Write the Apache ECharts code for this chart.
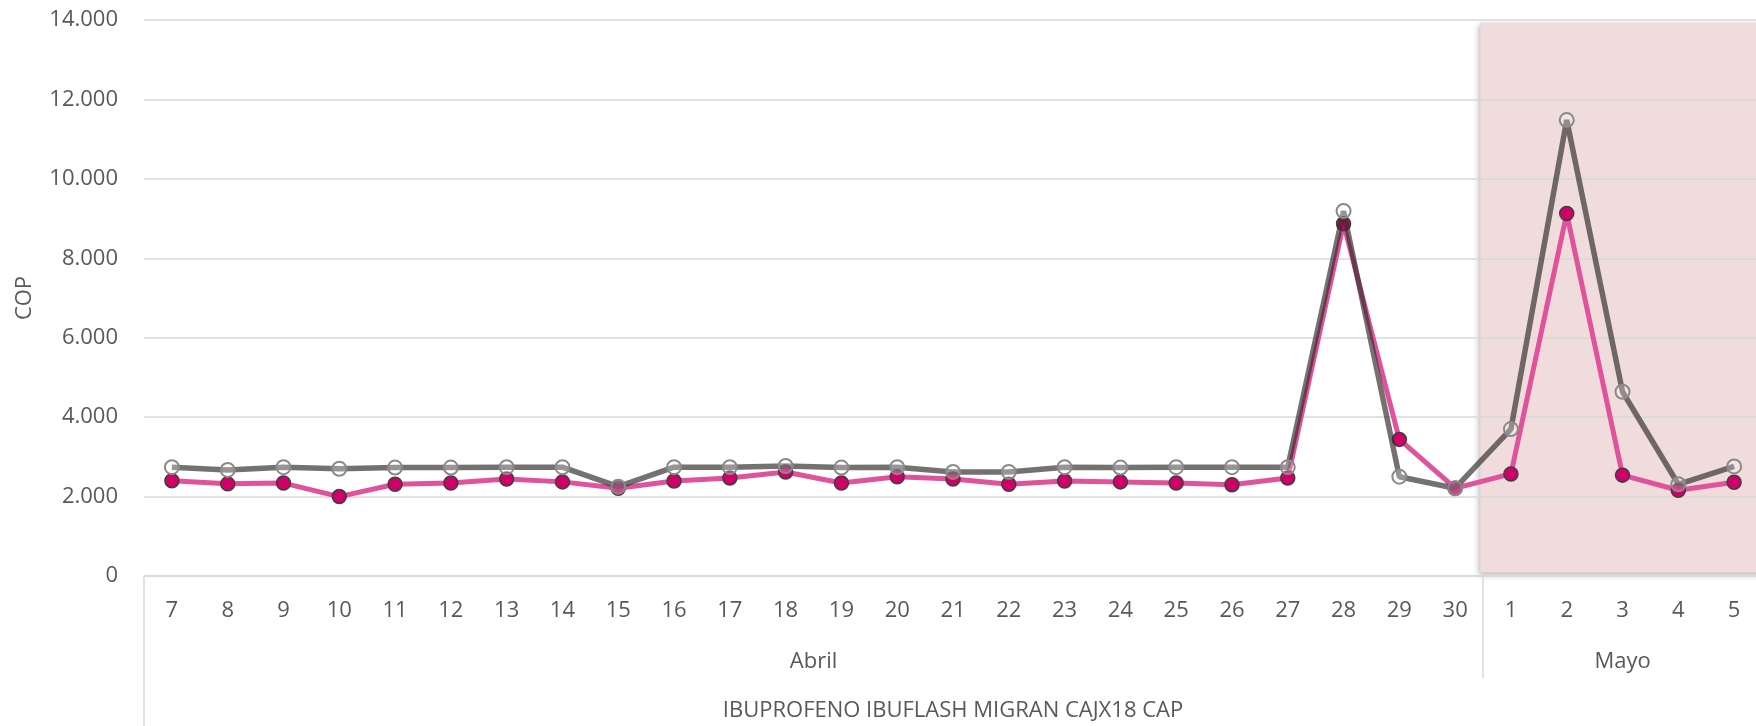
<!DOCTYPE html>
<html>
<head>
<meta charset="utf-8">
<title>COP</title>
<script src="https://cdn.jsdelivr.net/npm/echarts@6/dist/echarts.min.js"></script>
<style>
	html, body { margin: 0; padding: 0; background: #fff; }
	#chart { width: 1756px; height: 726px; }
</style>
</head>
<body>
<div id="chart"></div>
<script>
var dias = ['7','8','9','10','11','12','13','14','15','16','17','18','19','20','21','22','23','24','25','26','27','28','29','30','1','2','3','4','5'];
var meses = ['Abril', 'Mayo'];
var diasPorMes = [24, 5];
var producto = 'IBUPROFENO IBUFLASH MIGRAN CAJX18 CAP';

var serieRosa = [2400, 2320, 2340, 2000, 2310, 2340, 2440, 2370, 2210, 2390, 2470, 2620, 2340, 2500, 2440, 2310, 2390, 2370, 2340, 2300, 2470, 8870, 3440, 2210, 2570, 9130, 2540, 2160, 2360];
var serieGris = [2740, 2670, 2740, 2700, 2730, 2730, 2740, 2740, 2250, 2740, 2740, 2770, 2730, 2740, 2620, 2620, 2740, 2730, 2740, 2740, 2740, 9190, 2500, 2210, 3700, 11480, 4640, 2310, 2760];

var yTicks = [0, 2000, 4000, 6000, 8000, 10000, 12000, 14000];

// zona sombreada (mayo)
var zonaY = [86, 13930];

(function(){
	var gris = '#595959',
		linea = '#d9d9d9',
		fuente = '"Open Sans", "Noto Sans", sans-serif';

	// posiciones de grupo del eje multinivel
	var centros = [], cortes = [], inicio = 0;
	for(var i = 0; i < meses.length; i++){
		centros.push(inicio + (diasPorMes[i] - 1) / 2);
		inicio += diasPorMes[i];
		cortes.push(inicio - 0.5);
	}
	var nombreMes = function(v){
		for(var k = 0; k < centros.length; k++){
			if(Math.abs(centros[k] - v) < 0.01) return meses[k];
		}
		return '';
	};
	var miles = function(v){
		return String(v).replace(/\B(?=(\d{3})+(?!\d))/g, '.');
	};
	var inicioZona = diasPorMes[0] - 0.5 - 0.05;

	var chart = echarts.init(document.getElementById('chart')),
	option = {
		animation: false,
		textStyle: { fontFamily: fuente },
		grid: {
			left: 144,
			right: -6,
			top: 20,
			bottom: 150,
			outerBoundsMode: 'none'
		},
		xAxis: [{
			type: 'category',
			data: dias,
			boundaryGap: true,
			axisLine: { show: true, lineStyle: { color: linea, width: 1.5 } },
			axisTick: { show: false },
			axisLabel: { margin: 24, fontSize: 22, color: gris, fontFamily: fuente, interval: 0 },
			splitLine: { show: false },
			name: producto,
			nameLocation: 'middle',
			nameGap: 124,
			nameTextStyle: { fontSize: 22, color: gris, fontFamily: fuente }
		}, {
			type: 'value',
			min: -0.5,
			max: dias.length - 0.5,
			position: 'bottom',
			axisLine: { show: false },
			splitLine: { show: false },
			axisTick: { show: true, customValues: cortes, length: 102, lineStyle: { color: linea, width: 1.5 } },
			axisLabel: { customValues: centros, formatter: nombreMes, margin: 75, fontSize: 22, color: gris, fontFamily: fuente }
		}, {
			type: 'value',
			min: -0.5,
			max: dias.length - 0.5,
			position: 'bottom',
			axisLine: { show: false },
			splitLine: { show: false },
			axisTick: { show: true, customValues: [-0.5], length: 152, lineStyle: { color: linea, width: 1.5 } },
			axisLabel: { show: false }
		}],
		yAxis: {
			type: 'value',
			min: yTicks[0],
			max: yTicks[yTicks.length - 1],
			interval: 2000,
			axisLine: { show: false },
			axisTick: { show: false },
			splitLine: { lineStyle: { color: linea, width: 1.5 } },
			axisLabel: { margin: 26, fontSize: 22, color: gris, fontFamily: fuente, formatter: miles },
			name: 'COP',
			nameLocation: 'middle',
			nameGap: 108,
			nameTextStyle: { fontSize: 22, color: gris, fontFamily: fuente }
		},
		series: [{
			name: 'zona',
			type: 'line',
			xAxisIndex: 1,
			data: [],
			silent: true,
			markArea: {
				silent: true,
				z: -1,
				itemStyle: {
					color: '#f0dcdc',
					shadowBlur: 6,
					shadowColor: 'rgba(0,0,0,0.3)',
					shadowOffsetX: -1,
					shadowOffsetY: 2
				},
				data: [[{ xAxis: inicioZona, yAxis: zonaY[0] }, { xAxis: dias.length + 1, yAxis: zonaY[1] }]]
			}
		}, {
			name: 'Serie 1',
			type: 'line',
			data: serieRosa,
			symbol: 'circle',
			symbolSize: 14,
			lineStyle: { color: '#e0529b', width: 5 },
			itemStyle: { color: '#cf0067', borderColor: '#3f3f3f', borderWidth: 1.5 },
			z: 3
		}, {
			name: 'Serie 2',
			type: 'line',
			data: serieGris,
			symbol: 'circle',
			symbolSize: 14,
			lineStyle: { color: 'rgba(50,45,45,0.68)', width: 5.5 },
			itemStyle: { color: 'rgba(255,255,255,0.25)', borderColor: '#8a8a8a', borderWidth: 2 },
			z: 4
		}]
	};
	chart.setOption(option);
})();
</script>
</body>
</html>
